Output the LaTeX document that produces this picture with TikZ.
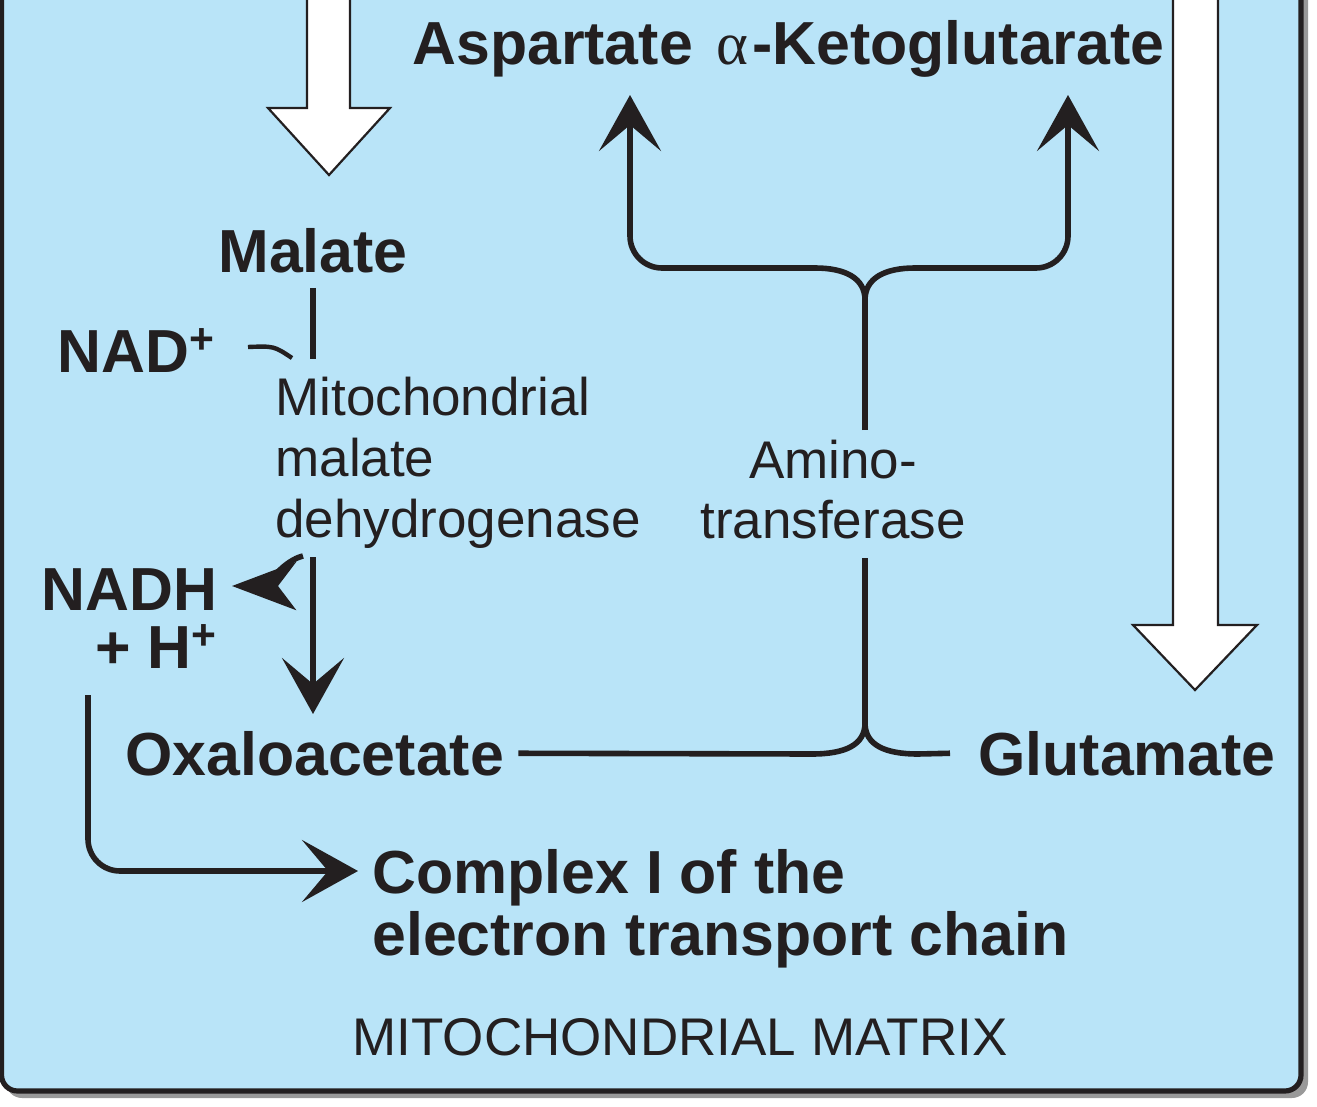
\documentclass[tikz,border=0pt]{standalone}
\usepackage{fontspec}
\setmainfont{Liberation Sans}
\newfontfamily\greekfont{Liberation Serif}
\usetikzlibrary{arrows.meta}

\definecolor{matrixblue}{RGB}{185,228,248}
\definecolor{ink}{RGB}{35,31,32}

\tikzset{
  metab/.style={font=\fontsize{30.4}{29}\selectfont\bfseries, text=ink, inner sep=0pt},
  enzyme/.style={font=\fontsize{26.5}{30.5}\selectfont, text=ink, inner sep=0pt},
  link/.style={draw=ink, line width=2.8pt},
  flow/.style={link, -{Stealth[length=28pt,width=31pt,inset=13pt]}},
  fatarrow/.style={fill=white, draw=ink, line width=1.1pt, line join=miter},
}

\begin{document}
\begin{tikzpicture}[x=0.5pt,y=-0.5pt]
\useasboundingbox (0,0) rectangle (1317,1107);
% matrix compartment
\begin{scope}
  \clip (0,0) rectangle (1317,1107);
  \fill[black!40, rounded corners=8pt] (6,-60) rectangle (1308,1098);
  \draw[fill=matrixblue, draw=ink, line width=2.6pt, rounded corners=8pt] (1.5,-60) rectangle (1301,1091);
  % transport arrows
  \draw[fatarrow] (307,-10) -- (307,108) -- (268,108) -- (329,175) -- (390,108) -- (350,108) -- (350,-10) -- cycle;
  \draw[fatarrow] (1173,-10) -- (1173,625) -- (1133,625) -- (1195,690) -- (1257,625) -- (1218,625) -- (1218,-10) -- cycle;
\end{scope}

% metabolites (multi-line nodes sit on their last line)
\node[metab, anchor=base west] (asp) at (412,65) {Aspartate};
\node[metab, anchor=base west] (akg) at (716,65) {{\greekfont\mdseries α}\kern2pt-Ketoglutarate};
\node[metab, anchor=base west] (mal) at (218,273) {Malate};
\node[metab, anchor=base west] (nad) at (57,372) {NAD\textsuperscript{+}};
\node[metab, anchor=base east, align=right] (nadh) at (218,668) {NADH\\+ H\textsuperscript{+}};
\node[metab, anchor=base west] (oaa) at (125,775) {Oxaloacetate};
\node[metab, anchor=base west] (glu) at (978,775) {Glutamate};
\node[metab, anchor=base west, align=left, font=\fontsize{30.4}{31}\selectfont\bfseries] (cplx) at (372,955) {Complex I of the\\electron transport chain};

% enzymes
\node[enzyme, anchor=base west, align=left] (mdh) at (275,537) {Mitochondrial\\malate\\dehydrogenase};
\node[enzyme, anchor=base, align=center, font=\fontsize{26.5}{30}\selectfont] (ast) at (833,538) {Amino-\\transferase};
\node[enzyme, anchor=base] (matrix) at (680,1055) {MITOCHONDRIAL MATRIX};

% malate dehydrogenase
\coordinate (malout) at (313,288);
\coordinate (malend) at (313,359);
\coordinate (oaain) at (313,557);
\coordinate (oaatip) at (313,714);
\coordinate (nadin) at (248,347);
\coordinate (nadhout) at (303,556);
\coordinate (nadhtip) at (232,586);
\draw[link] (malout) -- (malend);
\draw[flow] (oaain) -- (oaatip);
\draw[link, line width=2.2pt] (nadin) .. controls (274,346) .. (292,358);
\draw[link, -{Stealth[length=32pt,width=24pt,inset=9pt]}] (nadhout) .. controls (285,560) and (262,586) .. (nadhtip);

% aminotransferase
\coordinate (astup) at (865,430);
\coordinate (junctop) at (865,300);
\coordinate (astdown) at (865,558);
\coordinate (junclow) at (865,723);
\coordinate (asptip) at (630,95);
\coordinate (akgtip) at (1068,95);
\draw[link] (astup) -- (junctop);
\draw[flow] (junctop) .. controls (865,278) and (845,268) .. (815,268) [rounded corners=16pt] -- (asptip |- 0,268) -- (asptip);
\draw[flow] (junctop) .. controls (865,278) and (885,268) .. (915,268) [rounded corners=16pt] -- (akgtip |- 0,268) -- (akgtip);
\draw[link] (astdown) -- (junclow);
\draw[link] ([xshift=7pt]oaa.east) -- (812,754) .. controls (845,754) and (865,745) .. (junclow);
\draw[link] ([xshift=-14pt]glu.west) -- (918,754) .. controls (885,754) and (865,745) .. (junclow);

% NADH to complex I
\coordinate (nadhdown) at (88,695);
\coordinate (cplxin) at (358,871);
\draw[flow, rounded corners=16pt] (nadhdown) -- (nadhdown |- cplxin) -- (cplxin);
\end{tikzpicture}
\end{document}
